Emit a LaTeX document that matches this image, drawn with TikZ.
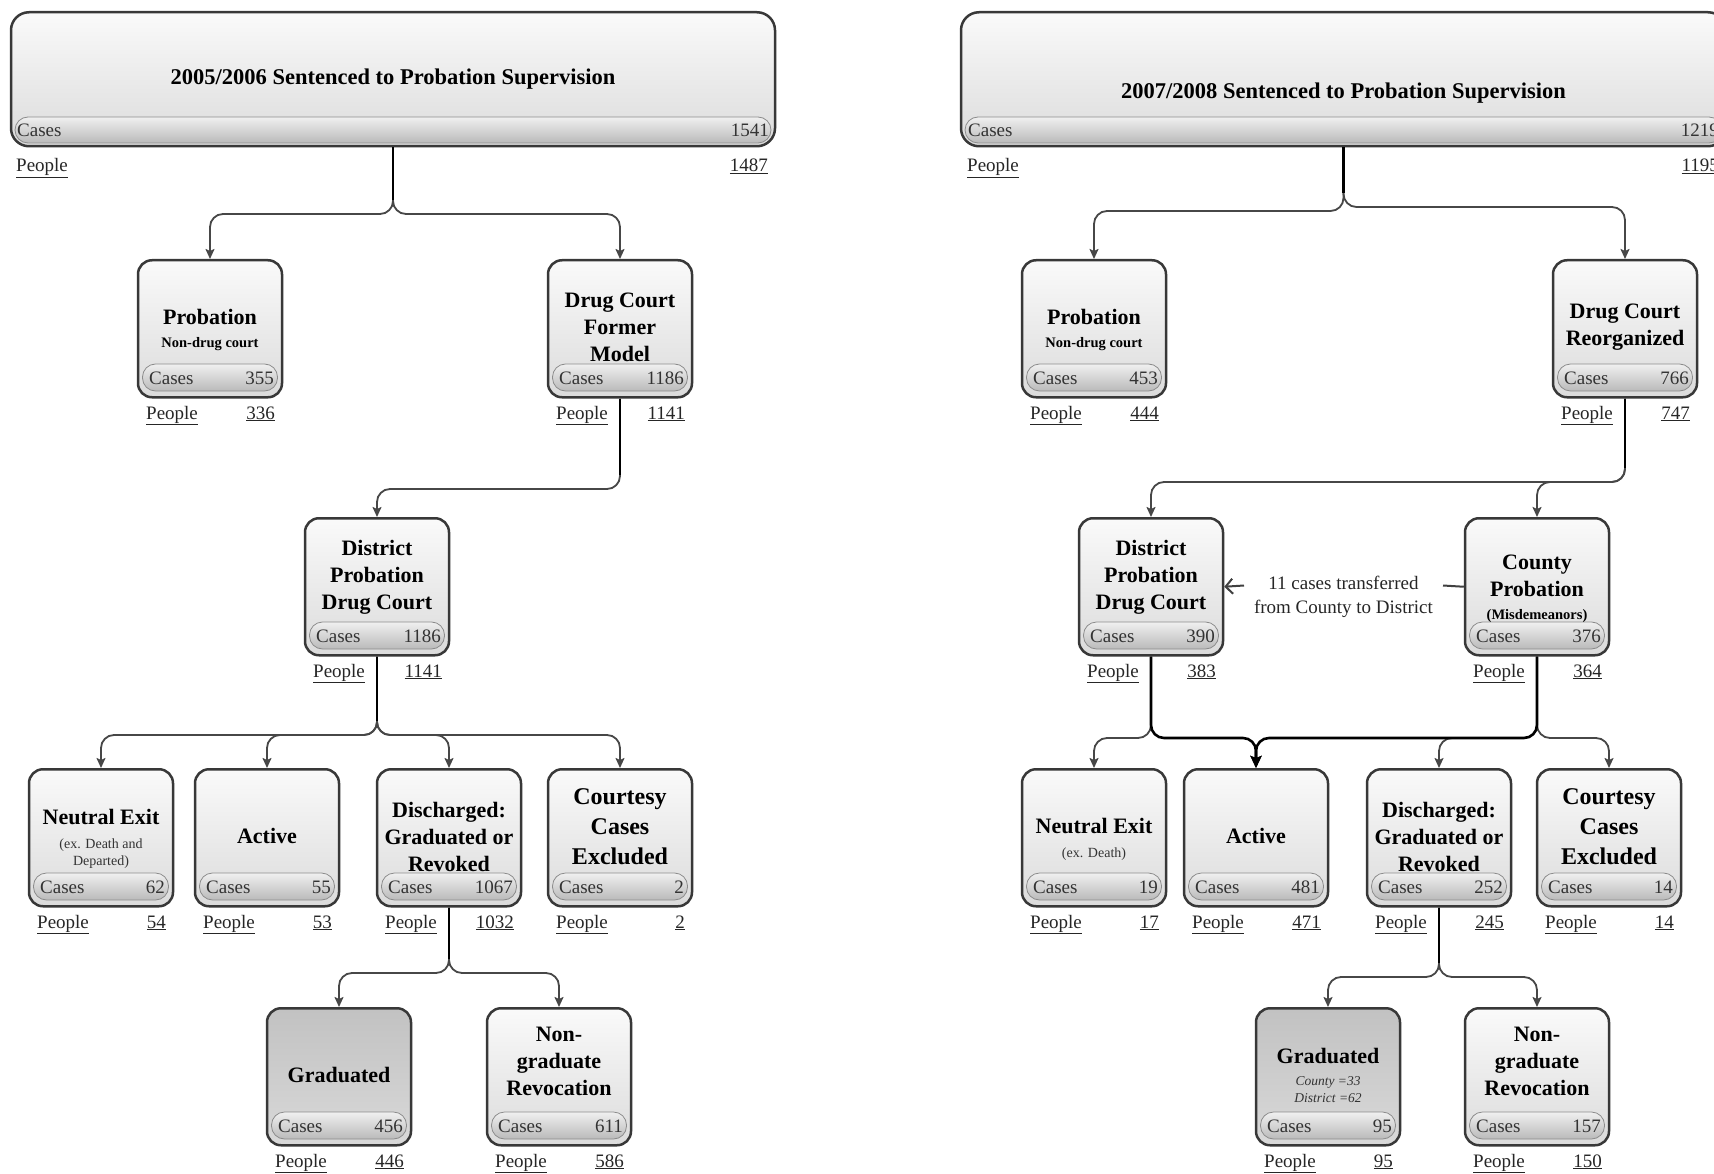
\documentclass[tikz,border=0pt]{standalone}
\usepackage{fontspec}
\setmainfont{Liberation Serif}
\usetikzlibrary{arrows.meta,calc}
\newcommand\TTL{\fontsize{22}{27}\selectfont\bfseries}
\newcommand\BIG{\fontsize{22.5}{27}\selectfont\bfseries}
\newcommand\SUBB{\fontsize{14.5}{17}\selectfont\bfseries}
\newcommand\SUBR{\fontsize{14}{17}\selectfont\mdseries\color{black!80}}
\newcommand\SUBI{\fontsize{13.5}{17}\selectfont\mdseries\itshape\color{black!80}}
\newcommand\CRT{\fontsize{24}{30}\selectfont\bfseries}
\newcommand\REG{\fontsize{19}{24}\selectfont}
\tikzset{
 boxw/.style={draw=black!78, line width=2.5pt, rounded corners=14pt, top color=white!98!black, bottom color=white!86!black, inner sep=0pt},
 boxg/.style={draw=black!78, line width=2.5pt, rounded corners=14pt, top color=black!24, bottom color=black!15, inner sep=0pt},
 bar/.style={draw=black!45, line width=0.8pt, rounded corners=13pt, top color=black!6, bottom color=black!27, inner sep=0pt},
 ctxt/.style={font=\REG, text=black!80, inner sep=0pt},
 ptxt/.style={font=\REG, text=black!85, inner sep=0pt},
 ttl/.style={font=\TTL, text width=150pt, align=flush center, inner sep=0pt},
 conn/.style={draw=black!72, line width=1.8pt, rounded corners=13pt, -{Stealth[length=10pt,width=9pt,inset=2pt]}},
 trunk/.style={draw=black, line width=2.3pt},
 thickconn/.style={draw=black, line width=2.6pt, rounded corners=13pt, -{Stealth[length=12pt,width=11pt,inset=2pt]}},
}
% #1 name, #2 cx, #3 top, #4 title offset, #5 title, #6 cases, #7 people, #8 style
\newcommand{\statbox}[8]{%
 \node[#8, minimum width=144pt, minimum height=137pt, anchor=north] (#1) at (#2,#3) {};
 \node[bar, minimum width=135pt, minimum height=27pt] (#1-bar) at (#2,#3+118.5) {};
 \node[ctxt, anchor=base west] (#1-cl) at (#2-61,#3+125.5) {Cases};
 \node[ctxt, anchor=base east] (#1-cn) at (#2+64,#3+125.5) {#6};
 \node[ttl] (#1-t) at (#2,#3+#4) {#5};
 \node[ptxt, anchor=base west] (#1-pl) at (#2-64,#3+160) {\underline{People}};
 \node[ptxt, anchor=base east] (#1-pn) at (#2+65,#3+160) {\underline{#7}};
}
\begin{document}
\begin{tikzpicture}[x=1pt,y=-1pt]
\useasboundingbox (0,0) rectangle (1714,1174);
\clip (0,0) rectangle (1714,1174);
\fill[white] (0,0) rectangle (1714,1174);

% ---------- top boxes ----------
\node[boxw, rounded corners=18pt, minimum width=764pt, minimum height=134pt, anchor=north] (topL) at (393,11) {};
\node[bar, minimum width=756pt, minimum height=26pt] (topL-bar) at (393,130) {};
\node[ctxt, anchor=base west] (topL-cl) at (17,136.5) {Cases};
\node[ctxt, anchor=base east] (topL-cn) at (769,136.5) {1541};
\node[font=\BIG, inner sep=0pt] (topL-t) at (393,79) {2005/2006 Sentenced to Probation Supervision};
\node[ptxt, anchor=base west] (topL-pl) at (16,172) {\underline{People}};
\node[ptxt, anchor=base east] (topL-pn) at (768,172) {\underline{1487}};

\node[boxw, rounded corners=18pt, minimum width=765pt, minimum height=134pt, anchor=north] (topR) at (1343.5,11) {};
\node[bar, minimum width=757pt, minimum height=26pt] (topR-bar) at (1343.5,130) {};
\node[ctxt, anchor=base west] (topR-cl) at (968,136.5) {Cases};
\node[ctxt, anchor=base east] (topR-cn) at (1719,136.5) {1219};
\node[font=\BIG, inner sep=0pt] (topR-t) at (1343.5,93) {2007/2008 Sentenced to Probation Supervision};
\node[ptxt, anchor=base west] (topR-pl) at (967,172) {\underline{People}};
\node[ptxt, anchor=base east] (topR-pn) at (1719,172) {\underline{1195}};

% ---------- left panel ----------
\statbox{probL}{210}{259}{71}{Probation\par\vspace{6pt}\SUBB Non-drug court\par}{355}{336}{boxw}
\statbox{drugL}{620}{259}{68}{Drug Court\\Former\\Model\par}{1186}{1141}{boxw}
\statbox{distL}{377}{517}{60}{District\\Probation\\Drug Court\par}{1186}{1141}{boxw}
\statbox{neutL}{101}{768}{71}{Neutral Exit\par\vspace{7pt}\SUBR (ex. Death and\\Departed)\par}{62}{54}{boxw}
\statbox{actL}{267}{768}{68}{Active\par}{55}{53}{boxw}
\statbox{disL}{449}{768}{69}{Discharged:\\Graduated or\\Revoked\par}{1067}{1032}{boxw}
\statbox{crtL}{620}{768}{59}{\CRT Courtesy\\Cases\\Excluded\par}{2}{2}{boxw}
\statbox{gradL}{339}{1007}{68}{Graduated\par}{456}{446}{boxg}
\statbox{ngL}{559}{1007}{54}{Non-\\graduate\\Revocation\par}{611}{586}{boxw}

% ---------- right panel ----------
\statbox{probR}{1094}{259}{71}{Probation\par\vspace{6pt}\SUBB Non-drug court\par}{453}{444}{boxw}
\statbox{drugR}{1625}{259}{68}{Drug Court\\Reorganized\par}{766}{747}{boxw}
\statbox{distR}{1151}{517}{60}{District\\Probation\\Drug Court\par}{390}{383}{boxw}
\statbox{cntR}{1537}{517}{72}{County\\Probation\par\vspace{6pt}\SUBB (Misdemeanors)\par}{376}{364}{boxw}
\statbox{neutR}{1094}{768}{71}{Neutral Exit\par\vspace{7pt}\SUBR (ex. Death)\par}{19}{17}{boxw}
\statbox{actR}{1256}{768}{68}{Active\par}{481}{471}{boxw}
\statbox{disR}{1439}{768}{69}{Discharged:\\Graduated or\\Revoked\par}{252}{245}{boxw}
\statbox{crtR}{1609}{768}{59}{\CRT Courtesy\\Cases\\Excluded\par}{14}{14}{boxw}
\statbox{gradR}{1328}{1007}{68}{Graduated\par\vspace{5pt}\SUBI County =33\\District =62\par}{95}{95}{boxg}
\statbox{ngR}{1537}{1007}{54}{Non-\\graduate\\Revocation\par}{157}{150}{boxw}

% ---------- connectors left ----------
\draw[conn] (topL.south) -- (393,214) -- (210,214) -- (probL.north);
\draw[conn] (topL.south) -- (393,214) -- (620,214) -- (drugL.north);
\draw[conn] (drugL.south) -- (620,489) -- (377,489) -- (distL.north);
\foreach \t/\x in {neutL/101, actL/267, disL/449, crtL/620}
  \draw[conn] (distL.south) -- (377,735) -- (\x,735) -- (\t.north);
\draw[conn] (disL.south) -- (449,973) -- (339,973) -- (gradL.north);
\draw[conn] (disL.south) -- (449,973) -- (559,973) -- (ngL.north);
\coordinate (tk1) at (393,200);
\coordinate (tk2) at (620,475);
\coordinate (tk3) at (377,721);
\coordinate (tk4) at (449,959);
\draw[trunk] (topL.south) -- (tk1);
\draw[trunk] (drugL.south) -- (tk2);
\draw[trunk] (distL.south) -- (tk3);
\draw[trunk] (disL.south) -- (tk4);

% ---------- connectors right ----------
\draw[conn] (topR.south) -- (1343.5,211) -- (1094,211) -- (probR.north);
\draw[conn] (topR.south) -- (1343.5,207) -- (1625,207) -- (drugR.north);
\draw[conn] (drugR.south) -- (1625,482) -- (1151,482) -- (distR.north);
\draw[conn] (drugR.south) -- (1625,482) -- (1537,482) -- (cntR.north);
\draw[conn] (distR.south) -- (1151,738) -- (1094,738) -- (neutR.north);
\draw[conn] (cntR.south) -- (1537,738) -- (1439,738) -- (disR.north);
\draw[conn] (cntR.south) -- (1537,738) -- (1609,738) -- (crtR.north);
\draw[thickconn] (distR.south) -- (1151,738) -- (1256,738) -- (actR.north);
\draw[thickconn] (cntR.south) -- (1537,738) -- (1256,738) -- (actR.north);
\draw[conn] (disR.south) -- (1439,977) -- (1328,977) -- (gradR.north);
\draw[conn] (disR.south) -- (1439,977) -- (1537,977) -- (ngR.north);
\coordinate (tk5) at (1343.5,193);
\coordinate (tk6) at (1625,468);
\coordinate (tk7) at (1537,724);
\coordinate (tk8) at (1439,963);
\coordinate (tk9) at (1151,724);
\draw[trunk] (topR.south) -- (tk5);
\draw[trunk] (drugR.south) -- (tk6);
\draw[trunk] (cntR.south) -- (tk7);
\draw[trunk] (disR.south) -- (tk8);
\draw[trunk] (distR.south) -- (tk9);

% transfer
\node[font=\REG, text=black!85, align=center, inner sep=0pt] (xfer) at (1343.5,597) {11 cases transferred\\from County to District};
\coordinate (xr) at (1443,585.5);
\coordinate (xl) at (1244,585.5);
\draw[line width=2pt, draw=black!75] (cntR.west) -- (xr);
\draw[line width=2pt, draw=black!75, -{Straight Barb[length=7pt,width=15pt]}] (xl) -- (distR.east);
\end{tikzpicture}
\end{document}
